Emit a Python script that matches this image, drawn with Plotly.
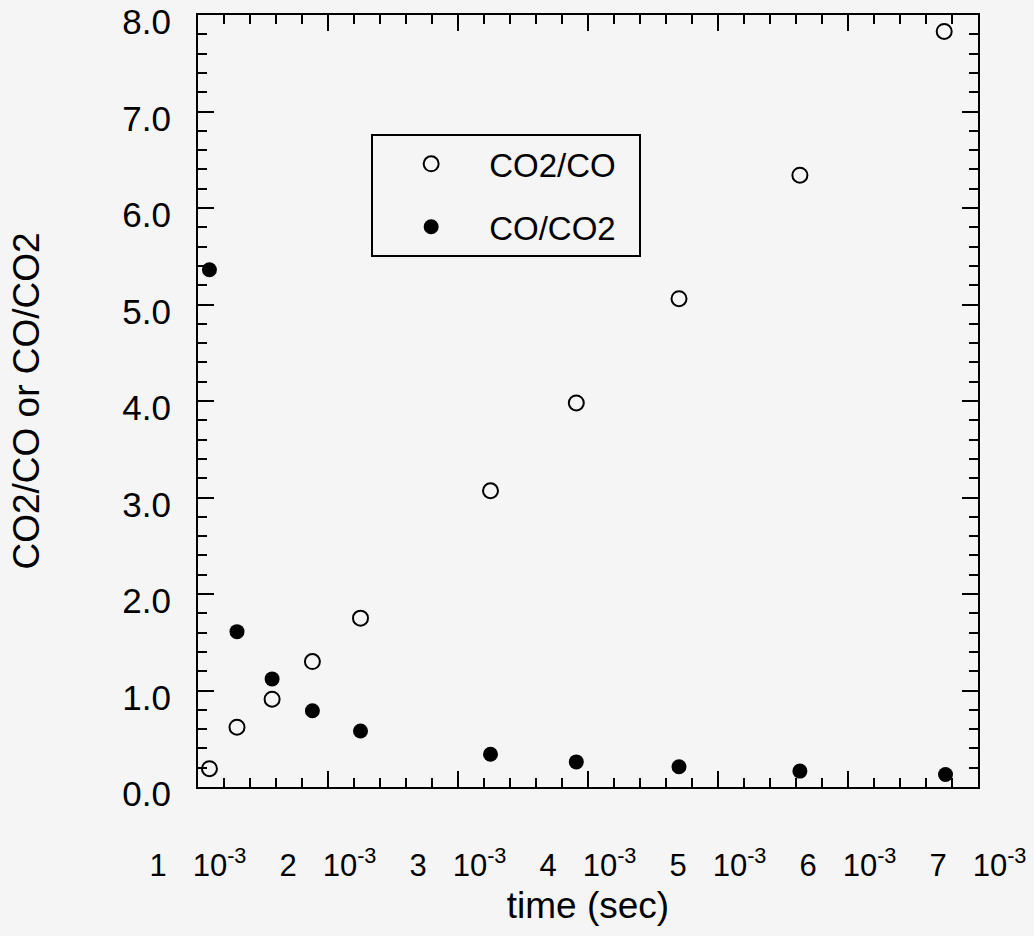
import plotly.graph_objects as go

# residence time (s) and measured ratios
time_s = [1.088e-3, 1.30e-3, 1.57e-3, 1.88e-3, 2.25e-3,
          3.25e-3, 3.91e-3, 4.70e-3, 5.63e-3, 6.74e-3]
co2_over_co = [0.19, 0.62, 0.91, 1.30, 1.75, 3.07, 3.98, 5.06, 6.34, 7.83]
time_s_co = [1.088e-3, 1.30e-3, 1.57e-3, 1.88e-3, 2.25e-3,
             3.25e-3, 3.91e-3, 4.70e-3, 5.63e-3, 6.75e-3]
co_over_co2 = [5.36, 1.61, 1.12, 0.79, 0.58, 0.34, 0.26, 0.21, 0.165, 0.13]

x_tickvals = [1e-3, 2e-3, 3e-3, 4e-3, 5e-3, 6e-3, 7e-3]
x_ticktext = [f"{n}\u00a0\u00a0\u00a010<sup>-3</sup>" for n in range(1, 8)]
y_tickvals = [0, 1, 2, 3, 4, 5, 6, 7, 8]
y_ticktext = [f"{v:.1f}" for v in y_tickvals]

FONT = "Liberation Sans, Arial, Helvetica, sans-serif"
BG = "#f5f5f5"

fig = go.Figure()
fig.add_trace(go.Scatter(
    x=time_s, y=co2_over_co, mode="markers", name="CO2/CO\u00a0\u00a0",
    legendgroup="a",
    marker=dict(symbol="circle-open", size=15, color="black",
                line=dict(width=2, color="black")),
))
fig.add_trace(go.Scatter(
    x=time_s_co, y=co_over_co2, mode="markers", name="CO/CO2\u00a0\u00a0",
    legendgroup="b",
    marker=dict(symbol="circle", size=15, color="black"),
))

axis_common = dict(
    showgrid=False, zeroline=False, automargin=False,
    showline=True, linecolor="black", linewidth=2,
    mirror="allticks", ticks="inside", tickcolor="black",
    tickwidth=2, ticklen=16, ticklabeloverflow="allow",
)

fig.update_xaxes(
    **axis_common,
    range=[1e-3, 7e-3],
    tickmode="array", tickvals=x_tickvals, ticktext=x_ticktext,
    tickfont=dict(family=FONT, size=31, color="black"),
    ticklabelstandoff=50,
    minor=dict(dtick=0.2e-3, tick0=1e-3, ticks="inside", ticklen=9,
               tickwidth=1.5, tickcolor="black"),
    title=dict(text="time (sec)", font=dict(family=FONT, size=37, color="black"),
               standoff=10),
)
fig.update_yaxes(
    **axis_common,
    range=[0, 8],
    tickmode="array", tickvals=y_tickvals, ticktext=y_ticktext,
    tickfont=dict(family=FONT, size=35, color="black"),
    ticklabelstandoff=18, ticklabelshift=7,
    minor=dict(dtick=0.2, tick0=0, ticks="inside", ticklen=9,
               tickwidth=1.5, tickcolor="black"),
    title=dict(text="CO2/CO or CO/CO2", font=dict(family=FONT, size=37, color="black"),
               standoff=71),
)

fig.update_layout(
    width=1034, height=936,
    margin=dict(l=198, r=56, t=15, b=149),
    paper_bgcolor=BG, plot_bgcolor=BG,
    font=dict(family=FONT, size=31, color="black"),
    legend=dict(
        x=0.222, y=0.846, xanchor="left", yanchor="top",
        bgcolor=BG, bordercolor="black", borderwidth=2,
        font=dict(family=FONT, size=33, color="black"),
        itemwidth=106, tracegroupgap=17,
    ),
)

fig.write_html("out.html")
